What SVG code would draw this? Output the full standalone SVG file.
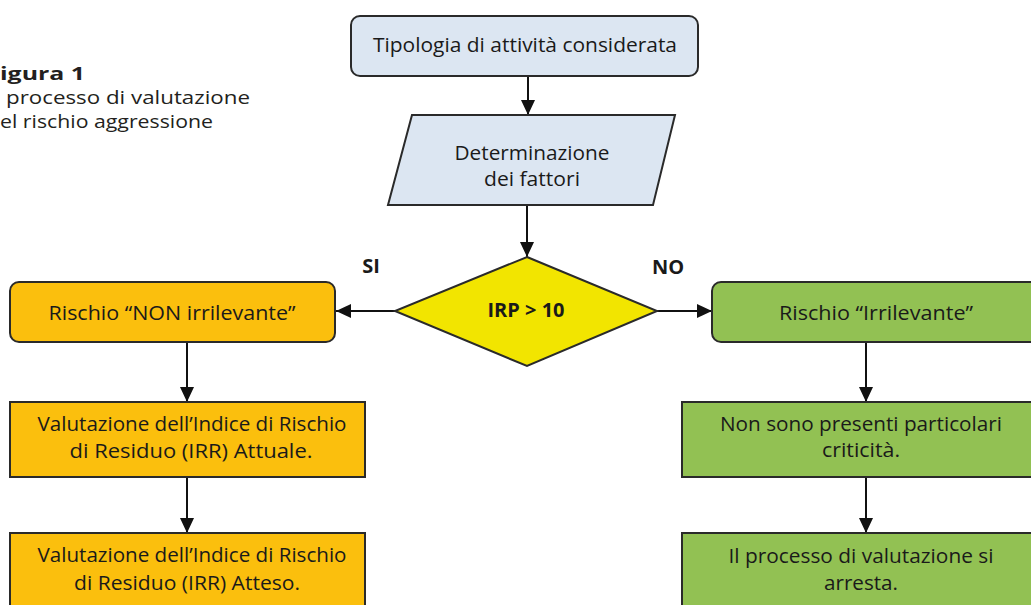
<svg xmlns="http://www.w3.org/2000/svg" width="1031" height="605" viewBox="0 0 1031 605">
<style>
.t{font-family:"Open Sans","Liberation Sans",sans-serif;font-size:20px;fill:#1a1a1a;text-anchor:middle}
.b{font-weight:bold}
.cap{font-family:"Open Sans","Noto Sans",sans-serif;font-size:18px;fill:#231f20}
.box{stroke:#2a2a2a;stroke-width:2}
.c{stroke:#111;stroke-width:2;fill:none;marker-end:url(#ah)}
</style>
<defs>
<marker id="ah" markerUnits="userSpaceOnUse" markerWidth="16" markerHeight="16" viewBox="0 0 16 16" refX="15" refY="8" orient="auto">
<path d="M0,1 L15,8 L0,15 z" fill="#111"/>
</marker>
</defs>
<rect width="1031" height="605" fill="#ffffff"/>
<g id="caption">
<text class="cap b" x="0" y="80" textLength="85" lengthAdjust="spacingAndGlyphs">igura 1</text>
<text class="cap" x="6" y="104" textLength="244" lengthAdjust="spacingAndGlyphs">processo di valutazione</text>
<text class="cap" x="0" y="128" textLength="213" lengthAdjust="spacingAndGlyphs">el rischio aggressione</text>
</g>
<g id="connectors">
<line class="c" x1="528" y1="76" x2="528" y2="115"/>
<line class="c" x1="527" y1="205" x2="527" y2="257"/>
<line class="c" x1="395" y1="311" x2="336" y2="311"/>
<line class="c" x1="657" y1="311" x2="712" y2="311"/>
<line class="c" x1="187" y1="342" x2="187" y2="402"/>
<line class="c" x1="187" y1="477" x2="187" y2="533"/>
<line class="c" x1="866" y1="342" x2="866" y2="402"/>
<line class="c" x1="866" y1="477" x2="866" y2="533"/>
</g>
<g id="labels">
<text class="t b" x="371" y="273">SI</text>
<text class="t b" x="668" y="274">NO</text>
</g>
<g id="n_tipologia">
<rect class="box" x="351" y="16" width="347" height="60" rx="9" fill="#dce6f2"/>
<text class="t" x="525" y="52" textLength="304" lengthAdjust="spacingAndGlyphs">Tipologia di attività considerata</text>
</g>
<g id="n_determinazione">
<polygon class="box" points="412,115 675,115 653,205 388,205" fill="#dce6f2"/>
<text class="t" x="532" y="160" textLength="155" lengthAdjust="spacingAndGlyphs">Determinazione</text>
<text class="t" x="532" y="186" textLength="96" lengthAdjust="spacingAndGlyphs">dei fattori</text>
</g>
<g id="n_irp">
<polygon class="box" points="527,257 657,311 527,366 395,311" fill="#f2e500"/>
<text class="t b" x="526" y="317" textLength="77" lengthAdjust="spacingAndGlyphs">IRP &gt; 10</text>
</g>
<g id="n_non_irr">
<rect class="box" x="10" y="282" width="325" height="60" rx="9" fill="#fbbf0d"/>
<text class="t" x="172" y="320" textLength="247" lengthAdjust="spacingAndGlyphs">Rischio “NON irrilevante”</text>
</g>
<g id="n_irr">
<rect class="box" x="712" y="282" width="330" height="60" rx="9" fill="#92c153"/>
<text class="t" x="876" y="320" textLength="194" lengthAdjust="spacingAndGlyphs">Rischio “Irrilevante”</text>
</g>
<g id="n_attuale">
<rect class="box" x="10" y="402" width="355" height="75" fill="#fbbf0d"/>
<text class="t" x="192" y="431" textLength="309" lengthAdjust="spacingAndGlyphs">Valutazione dell’Indice di Rischio</text>
<text class="t" x="191" y="458" textLength="243" lengthAdjust="spacingAndGlyphs">di Residuo (IRR) Attuale.</text>
</g>
<g id="n_atteso">
<rect class="box" x="10" y="533" width="355" height="80" fill="#fbbf0d"/>
<text class="t" x="192" y="562" textLength="309" lengthAdjust="spacingAndGlyphs">Valutazione dell’Indice di Rischio</text>
<text class="t" x="187" y="590" textLength="226" lengthAdjust="spacingAndGlyphs">di Residuo (IRR) Atteso.</text>
</g>
<g id="n_criticita">
<rect class="box" x="682" y="402" width="360" height="75" fill="#92c153"/>
<text class="t" x="861" y="431" textLength="282" lengthAdjust="spacingAndGlyphs">Non sono presenti particolari</text>
<text class="t" x="861" y="457" textLength="78" lengthAdjust="spacingAndGlyphs">criticità.</text>
</g>
<g id="n_arresta">
<rect class="box" x="682" y="533" width="360" height="80" fill="#92c153"/>
<text class="t" x="861" y="563" textLength="265" lengthAdjust="spacingAndGlyphs">Il processo di valutazione si</text>
<text class="t" x="861" y="590" textLength="74" lengthAdjust="spacingAndGlyphs">arresta.</text>
</g>
</svg>
